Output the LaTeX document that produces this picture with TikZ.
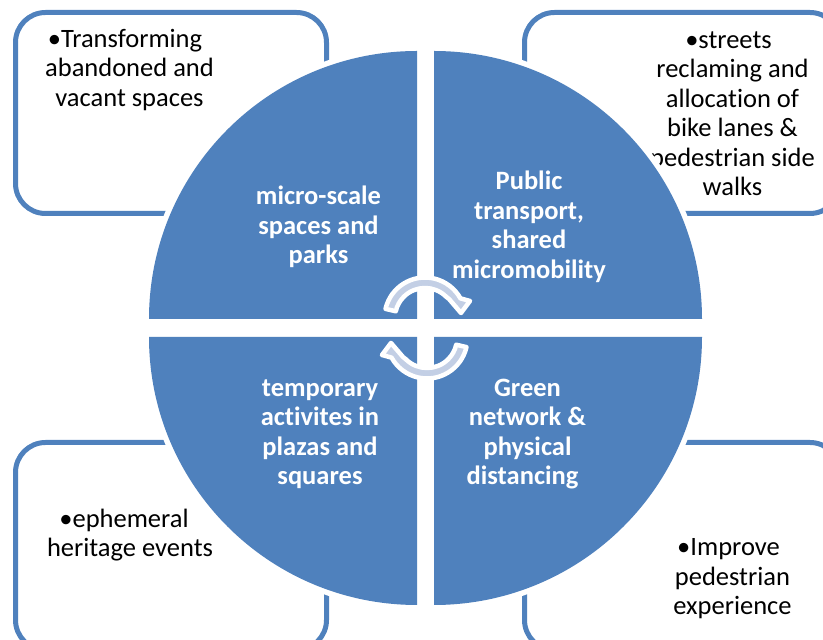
\documentclass[tikz,border=0pt]{standalone}
\usepackage{fontspec}
\setmainfont[Ligatures=NoCommon]{Carlito}
\definecolor{mainblue}{HTML}{4F81BD}
\definecolor{lightband}{HTML}{C3CFE5}
\newcommand{\cyclearrow}{%
  \filldraw[arrowband] ($(425,322)+(167:30pt)$) -- ($(425,322)+(167:40.5pt)$)
    arc[start angle=167,end angle=29,radius=40.5pt]
    -- (470,339) -- (461,327) -- (449,341)
    -- ($(425,322)+(45:30pt)$)
    arc[start angle=45,end angle=167,radius=30pt] -- cycle;}
\tikzset{
  cardbox/.style={draw=mainblue,line width=5pt,rounded corners=30pt,fill=white},
  sectorhalo/.style={draw=white,line width=11pt,line join=miter},
  sectorfill/.style={fill=mainblue},
  cardtext/.style={text=black,font=\fontsize{26.5}{29.5}\selectfont,align=center,inner sep=0pt},
  sectortext/.style={text=white,font=\fontsize{26.5}{29.5}\selectfont\bfseries,align=center,inner sep=0pt},
  arrowband/.style={fill=lightband,draw=white,line width=4.5pt,line join=round}
}
\usetikzlibrary{calc}
\newcommand{\quadrant}[4]{% centre, first point, start, end
  \draw[sectorhalo] #1 -- #2 arc[start angle=#3,end angle=#4,radius=268pt] -- cycle;
  \fill[sectorfill] #1 -- #2 arc[start angle=#3,end angle=#4,radius=268pt] -- cycle;}
\begin{document}
\begin{tikzpicture}[x=1pt,y=1pt]
\useasboundingbox (0,0) rectangle (823,640);
% cards
\draw[cardbox] (15.5,426.5) rectangle (326.5,627.5);
\draw[cardbox] (524.5,426.5) rectangle (840,627.5);
\draw[cardbox] (15.5,-10) rectangle (326.5,197.5);
\draw[cardbox] (524.5,-10) rectangle (840,197.5);
% card texts
\node[cardtext] (t1) at (129.5,570) {•Transforming\hspace*{9pt}\\abandoned and\\vacant spaces};
\node[cardtext] (t2) at (732.5,526.5) {•streets\hspace*{8pt}\\reclaming and\\allocation of\\bike lanes \&\\pedestrian side\\walks};
\node[cardtext] (t3) at (130,105) {•ephemeral\hspace*{12pt}\\heritage events};
\node[cardtext] (t4) at (732.5,61) {•Improve\hspace*{8pt}\\pedestrian\\experience};
% sectors
\quadrant{(417,321)}{(149,321)}{180}{90}
\quadrant{(434,321)}{(434,589)}{90}{0}
\quadrant{(417,303)}{(417,35)}{270}{180}
\quadrant{(434,303)}{(702,303)}{0}{-90}
% sector texts
\node[sectortext] (s1) at (318.5,413) {micro-scale\\spaces and\\parks};
\node[sectortext] (s2) at (529,413) {Public\\transport,\\shared\\micromobility};
\node[sectortext] (s3) at (320,206) {temporary\\activites in\\plazas and\\squares};
\node[sectortext] (s4) at (527.5,206) {Green\\network \&\\physical\\distancing\hspace*{10pt}};
% cycle arrows
\cyclearrow
\begin{scope}[rotate around={180:(426,312)}]
\cyclearrow
\end{scope}
\end{tikzpicture}
\end{document}
